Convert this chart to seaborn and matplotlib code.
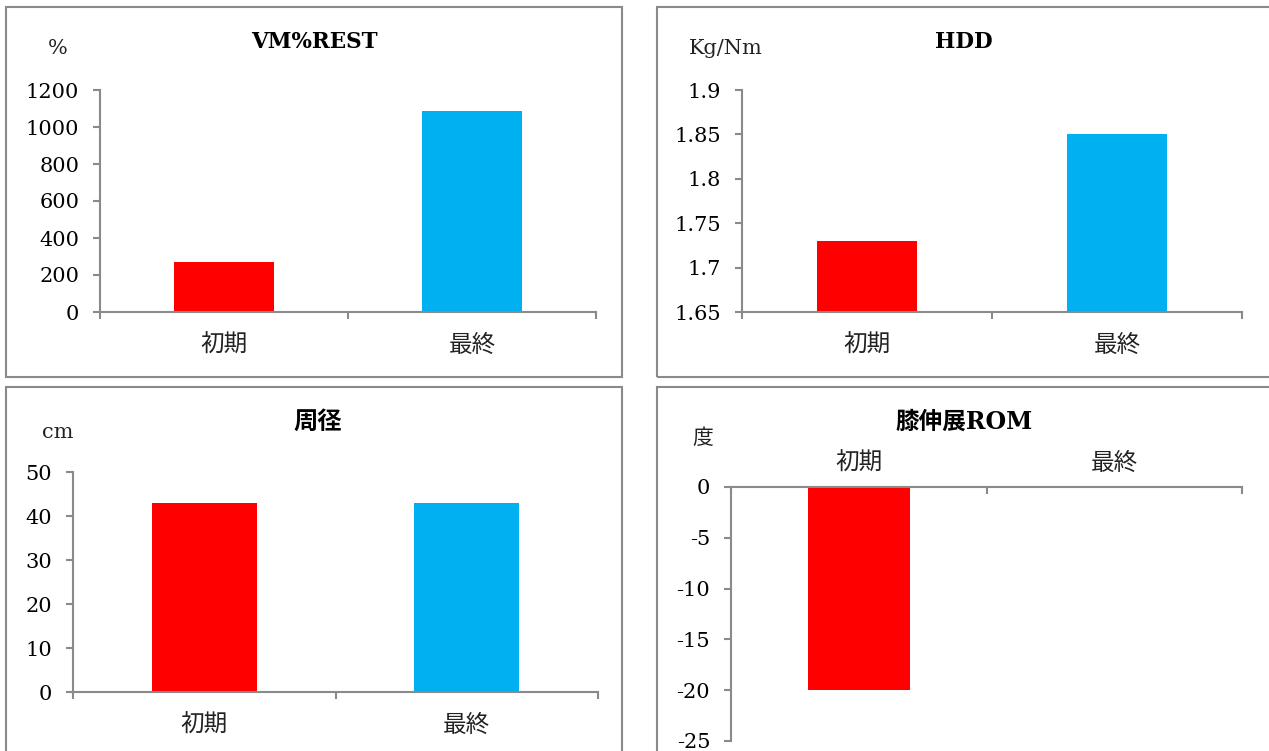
import matplotlib
matplotlib.use("Agg")
import matplotlib.pyplot as plt
from matplotlib.patches import Rectangle
from matplotlib.ticker import FuncFormatter
import numpy as np
import pandas as pd
import seaborn as sns

# ---- data -------------------------------------------------------------
categories = ["初期", "最終"]
bar_colors = ["#FF0000", "#00B0F0"]

vm_rest = [270, 1085]          # %
hdd = [1.73, 1.85]             # Kg/Nm
girth = [43, 43]               # cm
knee_rom = [-20, 0]            # 度

vm_ticks = [0, 200, 400, 600, 800, 1000, 1200]
hdd_ticks = [1.65, 1.7, 1.75, 1.8, 1.85, 1.9]
girth_ticks = [0, 10, 20, 30, 40, 50]
rom_ticks = [-25, -20, -15, -10, -5, 0]

titles = ["VM%REST", "HDD", "周径", "膝伸展ROM"]
units = ["%", "Kg/Nm", "cm", "度"]

# ---- style ------------------------------------------------------------
sns.set_theme(style="white")
plt.rcParams["font.family"] = ["DejaVu Serif", "Noto Sans CJK JP", "DejaVu Sans"]
plt.rcParams["axes.unicode_minus"] = False

W, H = 1269, 751
fig = plt.figure(figsize=(W / 100, H / 100), dpi=100)
fig.patch.set_facecolor("white")

GRAY = "#8a8a8a"


def rect(x0, y0, x1, y1):
    """Pixel box (top-left origin) -> figure fraction [l, b, w, h]."""
    return [x0 / W, 1 - y1 / H, (x1 - x0) / W, (y1 - y0) / H]


# panel frames
for x0, y0, x1, y1 in [(6, 7, 622, 377), (657, 7, 1290, 377),
                       (6, 387, 622, 790), (657, 387, 1290, 790)]:
    l, b, w, h = rect(x0, y0, x1, y1)
    fig.patches.append(Rectangle((l, b), w, h, transform=fig.transFigure,
                                 fill=False, edgecolor=GRAY, linewidth=1.5))

panels = [
    dict(values=vm_rest, ticks=vm_ticks, box=(100, 90, 596, 312),
         title_xy=(314, 42), title_size=15.5, unit_xy=(58, 48), top_axis=False),
    dict(values=hdd, ticks=hdd_ticks, box=(742, 90, 1242, 312),
         title_xy=(964, 42), title_size=15.5, unit_xy=(726, 49), top_axis=False),
    dict(values=girth, ticks=girth_ticks, box=(73, 472, 598, 692),
         title_xy=(318, 422), title_size=17.5, unit_xy=(58, 432), top_axis=False),
    dict(values=knee_rom, ticks=rom_ticks, box=(731, 487, 1242, 741),
         title_xy=(964, 422), title_size=17, unit_xy=(703, 438), top_axis=True),
]

for spec, title, unit in zip(panels, titles, units):
    ax = fig.add_axes(rect(*spec["box"]))
    df = pd.DataFrame({"期間": categories, "値": spec["values"]})
    sns.barplot(data=df, x="期間", y="値", hue="期間", palette=bar_colors,
                saturation=1, width=0.4, linewidth=0, legend=False, ax=ax)
    ax.set_facecolor("none")
    ax.set_xlabel("")
    ax.set_ylabel("")
    ax.set_xlim(-0.5, 1.5)
    ticks = spec["ticks"]
    ax.set_ylim(min(ticks), max(ticks))
    ax.set_yticks(ticks)
    ax.yaxis.set_major_formatter(FuncFormatter(lambda v, p: f"{v:g}"))

    for s in ax.spines.values():
        s.set_visible(False)
    ax.spines["left"].set_visible(True)
    xs = "top" if spec["top_axis"] else "bottom"
    ax.spines[xs].set_visible(True)
    for s in ("left", xs):
        ax.spines[s].set_color(GRAY)
        ax.spines[s].set_linewidth(1.5)

    ax.tick_params(axis="y", which="major", direction="out", length=5,
                   width=1.5, color=GRAY, pad=10, labelsize=15,
                   labelcolor="black", left=True)
    ax.set_xticks([-0.5, 0.5, 1.5], minor=True)
    if spec["top_axis"]:
        ax.tick_params(axis="x", which="both", top=True, bottom=False,
                       labeltop=True, labelbottom=False)
        ax.tick_params(axis="x", which="minor", direction="in", length=5,
                       width=1.5, color=GRAY)
        ax.tick_params(axis="x", which="major", length=0, pad=9,
                       labelsize=17, labelcolor="#222222")
    else:
        ax.tick_params(axis="x", which="minor", direction="out", length=5,
                       width=1.5, color=GRAY, bottom=True)
        ax.tick_params(axis="x", which="major", length=0, pad=16,
                       labelsize=17, labelcolor="#222222")

    tx, ty = spec["title_xy"]
    fig.text(tx / W, 1 - ty / H, title, ha="center", va="center",
             fontsize=spec["title_size"], fontweight="bold", color="black")
    ux, uy = spec["unit_xy"]
    fig.text(ux / W, 1 - uy / H, unit, ha="center", va="center",
             fontsize=15, color="#222222")

fig.savefig("out.png", dpi=100, facecolor="white")
